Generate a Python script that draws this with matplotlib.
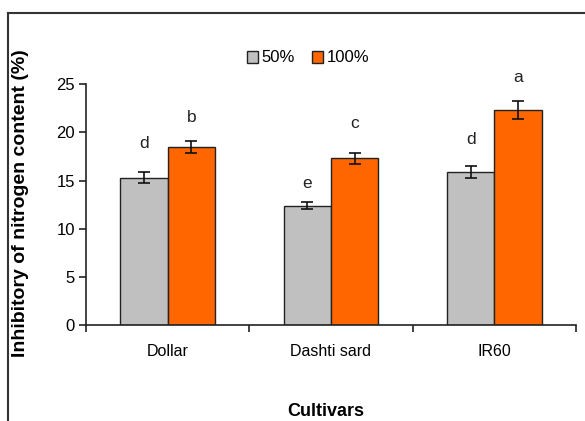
import matplotlib
matplotlib.use("Agg")
import matplotlib.pyplot as plt
import numpy as np
from matplotlib.lines import Line2D

categories = ["Dollar", "Dashti sard", "IR60"]
series_names = ["50%", "100%"]
values_50 = [15.3, 12.4, 15.9]
values_100 = [18.5, 17.3, 22.3]
err_50 = [0.57, 0.38, 0.64]
err_100 = [0.62, 0.55, 0.92]
letters_50 = ["d", "e", "d"]
letters_100 = ["b", "c", "a"]
letter_y_50 = [18.9, 14.7, 19.3]
letter_y_100 = [21.5, 20.9, 25.7]
yticks = [0, 5, 10, 15, 20, 25]

plt.rcParams['font.family'] = ['Liberation Sans', 'DejaVu Sans']

fig = plt.figure(figsize=(5.85, 4.21), dpi=100)
ax = fig.add_axes([86/585, 1-325/421, (576-86)/585, (325-84.3)/421])

x = np.arange(len(categories))
w = 0.29
c50 = "#C0C0C0"
c100 = "#FF6600"
ax.bar(x - w/2, values_50, w, color=c50, edgecolor="#222222", linewidth=1.0, label=series_names[0], zorder=2)
ax.bar(x + w/2, values_100, w, color=c100, edgecolor="#222222", linewidth=1.0, label=series_names[1], zorder=2)
ax.errorbar(x - w/2, values_50, yerr=err_50, fmt="none", ecolor="#111111", elinewidth=1.2, capsize=4.5, capthick=1.2, zorder=3)
ax.errorbar(x + w/2, values_100, yerr=err_100, fmt="none", ecolor="#111111", elinewidth=1.2, capsize=4.5, capthick=1.2, zorder=3)

for i in range(len(categories)):
    ax.text(x[i] - w/2, letter_y_50[i], letters_50[i], ha="center", va="center", fontsize=12.5, color="#222222", clip_on=False)
    ax.text(x[i] + w/2, letter_y_100[i], letters_100[i], ha="center", va="center", fontsize=12.5, color="#222222", clip_on=False)

ax.set_xlim(-0.5, len(categories) - 0.5)
ax.set_ylim(0, 25)
ax.set_yticks(yticks)
ax.set_yticklabels([str(t) for t in yticks], fontsize=12)
ax.set_xticks(x)
ax.set_xticklabels(categories, fontsize=11.5)
ax.tick_params(axis="x", length=0, pad=14)
# category boundary ticks
ax.set_xticks(np.arange(-0.5, len(categories), 1.0), minor=True)
ax.tick_params(axis="x", which="minor", length=5, width=1.2, direction="out", color="#222222")
ax.tick_params(axis="y", length=5, width=1.2, direction="out", color="#222222", pad=3)
for s in ["top", "right"]:
    ax.spines[s].set_visible(False)
for s in ["left", "bottom"]:
    ax.spines[s].set_linewidth(1.2)
    ax.spines[s].set_color("#222222")

fig.text(326/585, 1-416/421, "Cultivars", fontsize=13, fontweight="bold", ha="center", va="baseline")
fig.text(21/585, 1-203/421, "Inhibitory of nitrogen content (%)", fontsize=14, fontweight="bold",
         rotation=90, ha="center", va="center")

leg = fig.legend(loc="center", bbox_to_anchor=(308/585, 1-58/421), ncol=2, frameon=False,
                 fontsize=12, handlelength=0.7, handleheight=0.7, handletextpad=0.2, columnspacing=1.0,
                 borderpad=0)

# outer chart frame (left and top lines)
fig.add_artist(Line2D([7.5/585, 7.5/585], [0, 1-12.5/421], transform=fig.transFigure, color="#333333", linewidth=1.5))
fig.add_artist(Line2D([7.5/585, 1], [1-12.5/421, 1-12.5/421], transform=fig.transFigure, color="#333333", linewidth=1.5))

fig.savefig("out.png", dpi=100)
